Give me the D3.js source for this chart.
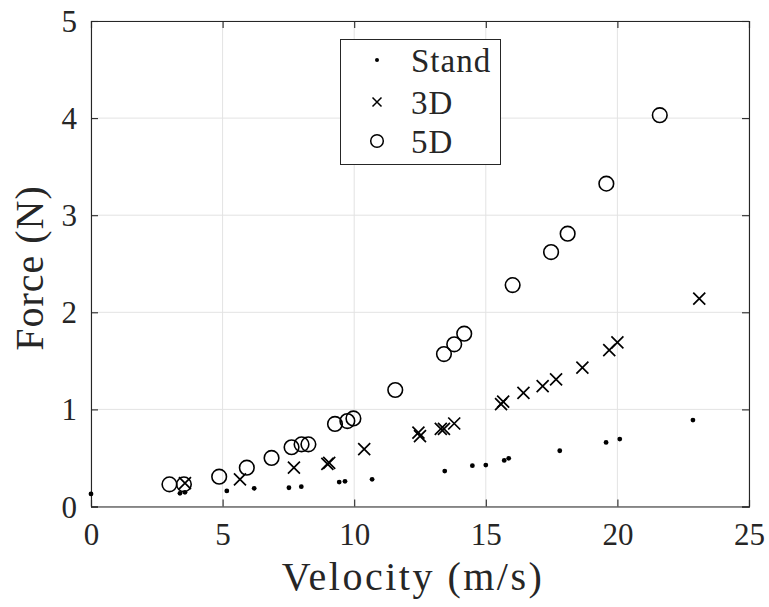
<!DOCTYPE html>
<html>
<head>
<meta charset="utf-8">
<script src="https://cdn.jsdelivr.net/npm/d3@7"></script>
<style>
body { margin: 0; background: #fff; }
text { font-family: "Liberation Serif", "Times New Roman", serif; fill: #262626; }
</style>
</head>
<body>
<div id="chart"></div>
<script>
// data (velocity m/s, force N)
const standX = [0, 3.38, 3.57, 5.16, 6.2, 7.52, 7.99, 9.43, 9.65, 10.68, 13.44, 14.49, 15.0, 15.7, 15.87, 17.81, 19.57, 20.09, 22.87];
const standY = [0.13, 0.136, 0.146, 0.16, 0.187, 0.193, 0.204, 0.252, 0.259, 0.28, 0.365, 0.42, 0.427, 0.475, 0.496, 0.574, 0.66, 0.694, 0.89];

const d3X = [3.57, 5.66, 7.71, 8.98, 9.05, 10.38, 12.44, 12.5, 13.29, 13.41, 13.8, 15.58, 15.66, 16.43, 17.16, 17.67, 18.67, 19.69, 20.0, 23.11];
const d3Y = [0.24, 0.28, 0.40, 0.44, 0.45, 0.59, 0.76, 0.725, 0.80, 0.80, 0.855, 1.055, 1.08, 1.17, 1.24, 1.31, 1.43, 1.61, 1.69, 2.14];

const d5X = [2.98, 3.53, 4.87, 5.92, 6.86, 7.62, 8.0, 8.26, 9.27, 9.74, 9.97, 11.56, 13.41, 13.8, 14.18, 16.02, 17.48, 18.11, 19.58, 21.61];
const d5Y = [0.228, 0.228, 0.307, 0.40, 0.50, 0.61, 0.64, 0.64, 0.85, 0.88, 0.907, 1.20, 1.57, 1.67, 1.78, 2.28, 2.62, 2.81, 3.325, 4.03];

const xTicks = [0, 5, 10, 15, 20, 25];
const yTicks = [0, 1, 2, 3, 4, 5];
const legendNames = ['Stand', '3D', '5D'];

const width = 769, height = 607;
const padL = 91, padR = 749, padT = 21, padB = 506.5;
const ink = '#262626';

const svg = d3.select('#chart')
                .append('svg')
                .attr('width', width)
                .attr('height', height);

let scaleX = d3.scaleLinear().domain([0, 25]).range([padL, padR]);
let scaleY = d3.scaleLinear().domain([0, 5]).range([padB, padT]);

// grid
svg.append('g').selectAll('line.gx')
    .data(xTicks)
    .enter().append('line')
    .attr('x1', d => scaleX(d)).attr('x2', d => scaleX(d))
    .attr('y1', padT).attr('y2', padB)
    .style('stroke', '#e3e3e3').style('stroke-width', 1);

svg.append('g').selectAll('line.gy')
    .data(yTicks)
    .enter().append('line')
    .attr('x1', padL).attr('x2', padR)
    .attr('y1', d => scaleY(d)).attr('y2', d => scaleY(d))
    .style('stroke', '#e3e3e3').style('stroke-width', 1);

// axes (ticks inward, box on)
let xAxis = d3.axisBottom(scaleX).tickValues(xTicks).tickFormat(d3.format('d')).tickSize(-7).tickPadding(16);
let yAxis = d3.axisLeft(scaleY).tickValues(yTicks).tickFormat(d3.format('d')).tickSize(-7).tickPadding(14);
let xTop = d3.axisTop(scaleX).tickValues(xTicks).tickSize(-7).tickFormat('');
let yRight = d3.axisRight(scaleY).tickValues(yTicks).tickSize(-7).tickFormat('');

let gx = svg.append('g').attr('transform', 'translate(0,' + padB + ')').call(xAxis);
let gy = svg.append('g').attr('transform', 'translate(' + padL + ',0)').call(yAxis);
let gt = svg.append('g').attr('transform', 'translate(0,' + padT + ')').call(xTop);
let gr = svg.append('g').attr('transform', 'translate(' + padR + ',0)').call(yRight);

[gx, gy, gt, gr].forEach(g => {
    g.select('.domain').style('stroke', ink).style('stroke-width', 1.1);
    g.selectAll('.tick line').style('stroke', ink).style('stroke-width', 1.1);
    g.selectAll('.tick text')
        .style('font-family', '"Liberation Serif", serif')
        .style('font-size', '31px')
        .style('fill', ink);
});
gx.selectAll('.tick text').attr('dy', '0.71em');
gy.selectAll('.tick text').attr('dy', '0.34em');

// axis labels
svg.append('text')
    .attr('x', 413)
    .attr('y', 590)
    .style('text-anchor', 'middle')
    .style('font-size', '40px')
    .style('letter-spacing', '2.5px')
    .text('Velocity (m/s)');

svg.append('text')
    .attr('transform', 'translate(43,268) rotate(-90)')
    .style('text-anchor', 'middle')
    .style('font-size', '40px')
    .style('letter-spacing', '1px')
    .text('Force (N)');

// markers
function crossPath(cx, cy, h) {
    return 'M' + (cx - h) + ',' + (cy - h) + 'L' + (cx + h) + ',' + (cy + h) +
           'M' + (cx - h) + ',' + (cy + h) + 'L' + (cx + h) + ',' + (cy - h);
}

let pts = svg.append('g');

pts.selectAll('circle.stand')
    .data(d3.range(standX.length))
    .enter().append('circle')
    .attr('cx', i => scaleX(standX[i]))
    .attr('cy', i => scaleY(standY[i]))
    .attr('r', 2.4)
    .style('fill', '#000');

pts.selectAll('path.d3')
    .data(d3.range(d3X.length))
    .enter().append('path')
    .attr('d', i => crossPath(scaleX(d3X[i]), scaleY(d3Y[i]), 6))
    .style('fill', 'none')
    .style('stroke', '#000')
    .style('stroke-width', 1.7);

pts.selectAll('circle.d5')
    .data(d3.range(d5X.length))
    .enter().append('circle')
    .attr('cx', i => scaleX(d5X[i]))
    .attr('cy', i => scaleY(d5Y[i]))
    .attr('r', 7.3)
    .style('fill', 'none')
    .style('stroke', '#000')
    .style('stroke-width', 1.6);

// legend
let lg = svg.append('g');
lg.append('rect')
    .attr('x', 340.5).attr('y', 39.5)
    .attr('width', 160).attr('height', 125)
    .style('fill', '#fff')
    .style('stroke', ink)
    .style('stroke-width', 1);

const rowY = [60, 102, 141];
const mx = 377, tx = 411;

lg.append('circle').attr('cx', mx).attr('cy', rowY[0]).attr('r', 2)
    .style('fill', '#000');
lg.append('path').attr('d', crossPath(mx, rowY[1], 4.5))
    .style('fill', 'none').style('stroke', '#000').style('stroke-width', 1.5);
lg.append('circle').attr('cx', mx).attr('cy', rowY[2]).attr('r', 6.3)
    .style('fill', 'none').style('stroke', '#000').style('stroke-width', 1.5);

lg.selectAll('text.lab')
    .data(legendNames)
    .enter().append('text')
    .attr('x', tx)
    .attr('y', (d, i) => rowY[i])
    .attr('dy', '0.35em')
    .style('font-size', '33px')
    .style('letter-spacing', '1px')
    .text(d => d);
</script>
</body>
</html>
